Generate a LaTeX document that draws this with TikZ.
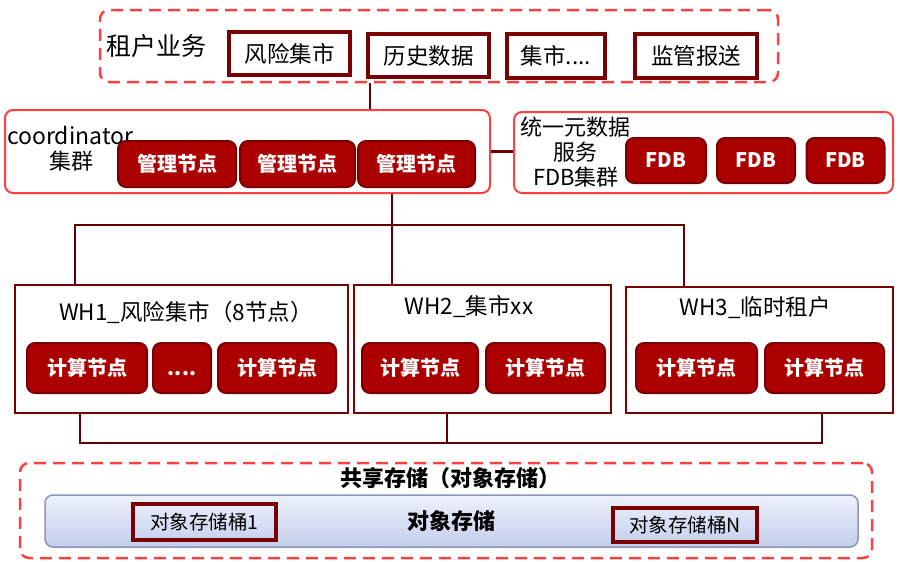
\documentclass[tikz,border=0pt]{standalone}
\usepackage{fontspec}
\setmainfont{Noto Sans CJK SC}
\definecolor{dashRed}{RGB}{255,64,64}
\definecolor{maroon}{RGB}{120,0,0}
\definecolor{nodeRed}{RGB}{172,0,0}
\definecolor{wireRed}{RGB}{96,0,0}
\definecolor{barTop}{RGB}{238,241,252}
\definecolor{barBot}{RGB}{196,205,235}
\definecolor{barEdge}{RGB}{140,150,185}
\begin{document}
\begin{tikzpicture}[x=1pt,y=-1pt,
    dashbox/.style={draw=dashRed, line width=2.5pt, dash pattern=on 12pt off 7pt, rounded corners=9pt, inner sep=0pt},
    groupbox/.style={draw=dashRed, line width=2pt, rounded corners=8pt, inner sep=0pt},
    whbox/.style={draw=maroon, line width=2.5pt, inner sep=0pt},
    itembox/.style={draw=maroon, line width=3.5pt, fill=white, inner sep=0pt, font=\fontsize{22.5pt}{26pt}\selectfont},
    rednode/.style={draw=maroon, line width=2pt, fill=nodeRed, rounded corners=8pt, inner sep=0pt, text=white, font=\bfseries\fontsize{20pt}{24pt}\selectfont},
    bucket/.style={draw=maroon, line width=3.5pt, inner sep=0pt, font=\fontsize{19.5pt}{23pt}\selectfont},
    label/.style={inner sep=0pt, font=\fontsize{22pt}{26pt}\selectfont},
    whtitle/.style={inner sep=0pt, font=\fontsize{22.5pt}{26pt}\selectfont},
    wire/.style={draw=wireRed, line width=2.5pt}]
    \useasboundingbox (0,0) rectangle (900,562);
    % Tenant services
    \node[dashbox, minimum width=678pt, minimum height=72pt] (tenant) at (439,46) {};
    \node[label, anchor=west, font=\fontsize{25pt}{29pt}\selectfont] (tenantTxt) at (106,46) {租户业务};
    \node[itembox, minimum width=121pt, minimum height=43pt] (svcRisk) at (289.5,53.5) {风险集市};
    \node[itembox, minimum width=121pt, minimum height=43pt] (svcHist) at (428.5,55.5) {历史数据};
    \node[itembox, minimum width=98pt, minimum height=44pt] (svcMore) at (556,56) {集市....};
    \node[itembox, minimum width=122pt, minimum height=44pt] (svcReg) at (696,56) {监管报送};
    % Coordinator cluster
    \node[groupbox, minimum width=485pt, minimum height=83pt] (coord) at (247.5,151.5) {};
    \node[label, anchor=west, font=\fontsize{23pt}{27pt}\selectfont] (coordTxt) at (7,135) {coordinator};
    \node[label] (coordTxtB) at (71,161) {集群};
    \node[rednode, minimum width=118pt, minimum height=46pt] (mgr1) at (177,164) {管理节点};
    \node[rednode, minimum width=115pt, minimum height=46pt] (mgr2) at (297.5,164) {管理节点};
    \node[rednode, minimum width=117pt, minimum height=46pt] (mgr3) at (416.5,164) {管理节点};
    % Metadata service
    \node[groupbox, minimum width=379pt, minimum height=81pt] (meta) at (703.5,152.5) {};
    \node[label] (metaTxtA) at (575,127) {统一元数据};
    \node[label] (metaTxtB) at (575,152) {服务};
    \node[label] (metaTxtC) at (576,177) {FDB集群};
    \node[rednode, minimum width=80pt, minimum height=45pt] (fdb1) at (666,160.5) {FDB};
    \node[rednode, minimum width=78pt, minimum height=45pt] (fdb2) at (756,160.5) {FDB};
    \node[rednode, minimum width=78pt, minimum height=45pt] (fdb3) at (845.5,160.5) {FDB};
    % Warehouses
    \node[whbox, minimum width=333pt, minimum height=128pt] (wh1) at (181.5,349) {};
    \node[whbox, minimum width=257pt, minimum height=128pt] (wh2) at (482.5,349) {};
    \node[whbox, minimum width=267pt, minimum height=126pt] (wh3) at (759.5,350) {};
    \node[whtitle] (wh1Txt) at (186,312) {WH1\_风险集市（8节点）};
    \node[whtitle] (wh2Txt) at (469,307) {WH2\_集市xx};
    \node[whtitle] (wh3Txt) at (755,308) {WH3\_临时租户};
    \node[rednode, minimum width=120pt, minimum height=50pt] (calc11) at (87,368) {计算节点};
    \node[rednode, minimum width=58pt, minimum height=50pt] (calcDots) at (182,368) {\vphantom{计}....};
    \node[rednode, minimum width=118pt, minimum height=50pt] (calc12) at (277,368) {计算节点};
    \node[rednode, minimum width=116pt, minimum height=50pt] (calc21) at (420,368) {计算节点};
    \node[rednode, minimum width=119pt, minimum height=50pt] (calc22) at (545.5,368) {计算节点};
    \node[rednode, minimum width=121pt, minimum height=50pt] (calc31) at (696.5,368) {计算节点};
    \node[rednode, minimum width=119pt, minimum height=50pt] (calc32) at (824.5,368) {计算节点};
    % Shared storage
    \node[dashbox, minimum width=852pt, minimum height=95pt] (store) at (446,510.5) {};
    \node[label, font=\bfseries\fontsize{22pt}{26pt}\selectfont] (storeTxt) at (450,478) {共享存储（对象存储）};
    \node[draw=barEdge, line width=1.5pt, top color=barTop, bottom color=barBot, rounded corners=8pt, inner sep=0pt,
          minimum width=813pt, minimum height=52pt, font=\bfseries\fontsize{22pt}{26pt}\selectfont] (objBar) at (451.5,521) {对象存储};
    \node[bucket, minimum width=143pt, minimum height=36pt] (bucket1) at (204.5,522) {对象存储桶1};
    \node[bucket, minimum width=144pt, minimum height=34pt] (bucketN) at (685,525) {对象存储桶N};
    % Connectors
    \coordinate (linkT) at (370,0);
    \coordinate (upL) at (75,225);
    \coordinate (upM) at (392,225);
    \coordinate (upR) at (684,225);
    \coordinate (dnL) at (80,443);
    \coordinate (dnM) at (447,443);
    \coordinate (dnR) at (822,443);
    \draw[wire] (tenant.south -| linkT) -- (coord.north -| linkT);
    \draw[wire] (coord.east) -- (meta.west |- coord.east);
    \draw[wire] (coord.south -| upM) -- (wh2.north -| upM);
    \draw[wire] (wh1.north -| upL) -- (upL) -- (upR) -- (wh3.north -| upR);
    \draw[wire] (wh1.south -| dnL) -- (dnL) -- (dnR) -- (wh3.south -| dnR);
    \draw[wire] (wh2.south -| dnM) -- (dnM);
\end{tikzpicture}
\end{document}
